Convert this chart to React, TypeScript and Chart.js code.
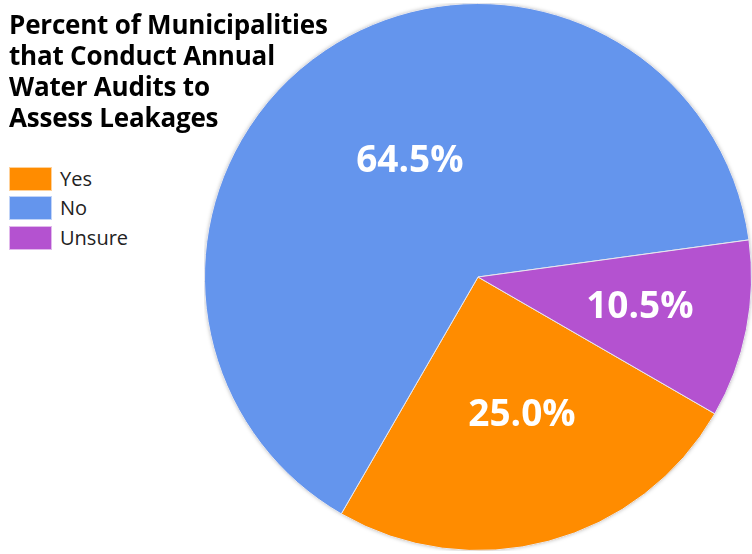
import React, { useEffect, useRef } from "react";
import { Chart, registerables } from "chart.js";

Chart.register(...registerables);

const titleLines = ["Percent of Municipalities", "that Conduct Annual", "Water Audits to", "Assess Leakages"];
const categories = ["Yes", "No", "Unsure"];
const values = [25.0, 64.5, 10.5];
const colors = ["#FF8C00", "#6495ED", "#B452D0"];

const labelPlacement = [
  { f: 0.52, da: -3 },
  { f: 0.5, da: 4 },
  { f: 0.6, da: -1.5 },
];

const shadowPlugin = {
  id: "pieShadow",
  beforeDatasetsDraw(chart: any) {
    const meta = chart.getDatasetMeta(0);
    const arc = meta.data[0];
    if (!arc) return;
    const { x, y, outerRadius } = arc.getProps(["x", "y", "outerRadius"], true);
    const ctx = chart.ctx;
    ctx.save();
    ctx.shadowColor = "rgba(0,0,0,0.35)";
    ctx.shadowBlur = 4;
    ctx.beginPath();
    ctx.arc(x, y, outerRadius - 0.5, 0, Math.PI * 2);
    ctx.fillStyle = "#ffffff";
    ctx.fill();
    ctx.restore();
  },
};

const labelPlugin = {
  id: "sliceLabels",
  afterDatasetsDraw(chart: any) {
    const meta = chart.getDatasetMeta(0);
    const ctx = chart.ctx;
    ctx.save();
    ctx.font = "bold 37px 'Open Sans'";
    ctx.fillStyle = "#ffffff";
    ctx.textAlign = "center";
    ctx.textBaseline = "alphabetic";
    meta.data.forEach((arc: any, i: number) => {
      const { x, y, startAngle, endAngle, outerRadius } = arc.getProps(
        ["x", "y", "startAngle", "endAngle", "outerRadius"],
        true
      );
      const p = labelPlacement[i];
      const mid = (startAngle + endAngle) / 2 + (p.da * Math.PI) / 180;
      const r = outerRadius * p.f;
      const lx = x + Math.cos(mid) * r;
      const ly = y + Math.sin(mid) * r;
      ctx.fillText(values[i].toFixed(1) + "%", lx, ly + 14);
    });
    ctx.restore();
  },
};

export default function App() {
  const ref = useRef<HTMLCanvasElement>(null);
  useEffect(() => {
    if (!ref.current) return;
    const chart = new Chart(ref.current, {
      type: "pie",
      data: {
        labels: categories,
        datasets: [
          {
            data: values,
            backgroundColor: colors,
            borderColor: "#e8e8ee",
            borderWidth: 1,
          },
        ],
      },
      options: {
        responsive: false,
        animation: false,
        rotation: 120,
        layout: { padding: 0 },
        plugins: {
          legend: { display: false },
          tooltip: { enabled: false },
          title: { display: false },
        },
      },
      plugins: [shadowPlugin, labelPlugin],
    });
    return () => chart.destroy();
  }, []);

  return (
    <div
      style={{
        position: "fixed",
        left: 0,
        top: 0,
        width: 752,
        height: 554,
        overflow: "hidden",
        background: "#ffffff",
      }}
    >
      <canvas
        ref={ref}
        width={548}
        height={548}
        style={{ position: "absolute", left: 204, top: 3, width: 548, height: 548 }}
      />
      <div
        style={{
          position: "absolute",
          left: 9,
          top: 9,
          fontFamily: "'Open Sans', sans-serif",
          fontWeight: 700,
          fontSize: 26,
          lineHeight: "31px",
          color: "#000",
          letterSpacing: -0.2,
          whiteSpace: "nowrap",
        }}
      >
        {titleLines.map((t, i) => (
          <div key={i}>{t}</div>
        ))}
      </div>
      <div style={{ position: "absolute", left: 9, top: 164 }}>
        {categories.map((c, i) => (
          <div key={c} style={{ display: "flex", alignItems: "center", height: 29.5 }}>
            <div
              style={{
                width: 43,
                height: 24,
                background: colors[i],
                border: "1px solid rgba(255,255,255,0.6)",
                boxSizing: "border-box",
              }}
            />
            <span
              style={{
                marginLeft: 8,
                fontFamily: "'Open Sans', sans-serif",
                fontSize: 20,
                color: "#222",
                lineHeight: "24px",
              }}
            >
              {c}
            </span>
          </div>
        ))}
      </div>
    </div>
  );
}
